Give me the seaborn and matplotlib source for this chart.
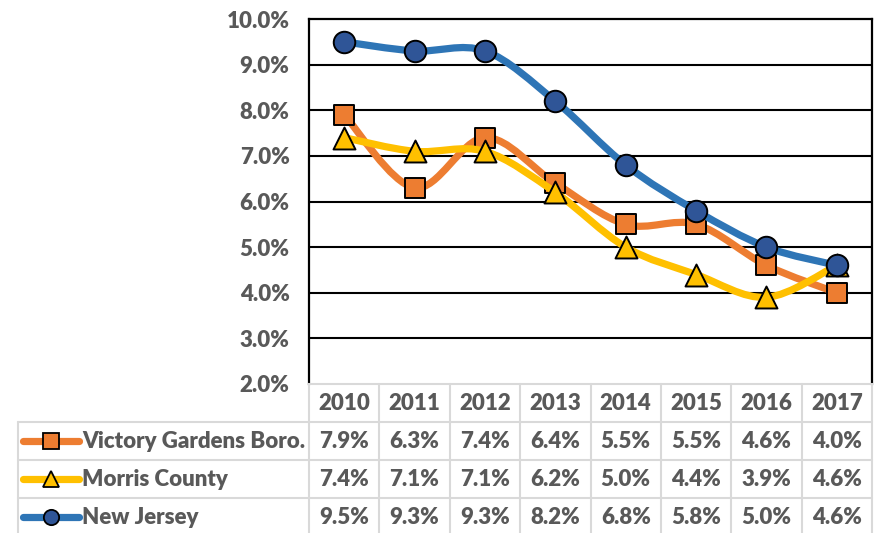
import matplotlib
matplotlib.use("Agg")
import matplotlib.pyplot as plt
import matplotlib.transforms as mtransforms
from matplotlib.path import Path
from matplotlib.patches import PathPatch
from matplotlib.lines import Line2D
import seaborn as sns
import numpy as np

years = ["2010", "2011", "2012", "2013", "2014", "2015", "2016", "2017"]
victory = [7.9, 6.3, 7.4, 6.4, 5.5, 5.5, 4.6, 4.0]
morris = [7.4, 7.1, 7.1, 6.2, 5.0, 4.4, 3.9, 4.6]
nj = [9.5, 9.3, 9.3, 8.2, 6.8, 5.8, 5.0, 4.6]
series_names = ["Victory Gardens Boro.", "Morris County", "New Jersey"]
yticks = [2.0, 3.0, 4.0, 5.0, 6.0, 7.0, 8.0, 9.0, 10.0]

sns.set_style("white")
plt.rcParams["font.family"] = ["Lato", "DejaVu Sans"]
TXT = "#595959"
GRID_T = "#d9d9d9"

W, H = 881, 533
fig = plt.figure(figsize=(W / 100, H / 100), dpi=100)
L, R, T, B = 309, 872, 19, 384
ax = fig.add_axes([L / W, 1 - B / H, (R - L) / W, (B - T) / H])

styles = [
    dict(name=series_names[0], vals=victory, line="#ED7D31", face="#ED7D31", marker="s", s=225, z=3),
    dict(name=series_names[1], vals=morris, line="#FFC000", face="#FFC000", marker="^", s=250, z=4),
    dict(name=series_names[2], vals=nj, line="#2E75B6", face="#2F5597", marker="o", s=240, z=5),
]

def smooth_path(xs, ys, t=1 / 6):
    pts = np.column_stack([xs, ys]).astype(float)
    n = len(pts)
    verts = [pts[0]]
    codes = [Path.MOVETO]
    for i in range(n - 1):
        p0 = pts[max(i - 1, 0)]
        p1 = pts[i]
        p2 = pts[i + 1]
        p3 = pts[min(i + 2, n - 1)]
        c1 = p1 + (p2 - p0) * t
        c2 = p2 - (p3 - p1) * t
        verts += [c1, c2, p2]
        codes += [Path.CURVE4] * 3
    return Path(verts, codes)

xidx = np.arange(len(years))
for st in styles:
    patch = PathPatch(smooth_path(xidx, st["vals"]), fill=False, edgecolor=st["line"],
                      lw=5.2, capstyle="round", joinstyle="round", zorder=st["z"])
    ax.add_patch(patch)
    sns.scatterplot(x=xidx, y=st["vals"], marker=st["marker"], s=st["s"], color=st["face"],
                    edgecolor="black", linewidth=1.4, zorder=st["z"] + 0.5, ax=ax, legend=False)

fs = 16
ax.set_xlim(-0.5, len(years) - 0.5)
ax.set_ylim(2.0, 10.0)
ax.set_yticks(yticks)
ax.set_yticklabels([f"{v:.1f}%" for v in yticks], fontsize=fs, fontweight="heavy", color=TXT)
ax.tick_params(axis="y", length=0, pad=14)
ax.set_xticks([])
for v in yticks[1:-1]:
    ax.axhline(v, color="black", lw=1.5, zorder=1)
for side in ["top", "left", "right"]:
    ax.spines[side].set_color("black")
    ax.spines[side].set_linewidth(1.6)
ax.spines["bottom"].set_color(GRID_T)
ax.spines["bottom"].set_linewidth(1.5)
ax.set_xlabel("")
ax.set_ylabel("")

# Data table below the plot
tb = mtransforms.blended_transform_factory(ax.transData, fig.transFigure)
def fy(py):
    return 1 - py / H
def fx(px):
    return px / W

row_lines = [B, 422, 460, 498, 536]
left_x = 18
for py in row_lines[1:]:
    fig.add_artist(Line2D([fx(left_x), fx(R)], [fy(py), fy(py)], color=GRID_T, lw=1.5))
for i in range(len(years) + 1):
    xd = i - 0.5
    fig.add_artist(Line2D([xd, xd], [fy(B), fy(row_lines[-1])], color=GRID_T, lw=1.5, transform=tb))
fig.add_artist(Line2D([fx(left_x), fx(left_x)], [fy(422), fy(536)], color=GRID_T, lw=1.5))

for i, yv in enumerate(years):
    fig.text(i, fy((B + 422) / 2), yv, transform=tb, ha="center", va="center",
             fontsize=fs, fontweight="heavy", color=TXT)

for r, st in enumerate(styles):
    cy = (row_lines[r + 1] + row_lines[r + 2]) / 2
    for i, v in enumerate(st["vals"]):
        fig.text(i, fy(cy), f"{v:.1f}%", transform=tb, ha="center", va="center",
                 fontsize=fs, fontweight="heavy", color=TXT)
    fig.add_artist(Line2D([fx(23), fx(79)], [fy(cy), fy(cy)], color=st["line"], lw=5.2,
                          solid_capstyle="round"))
    fig.add_artist(Line2D([fx(51)], [fy(cy)], marker=st["marker"], markersize=11.5 if st["marker"] != "o" else 11,
                          markerfacecolor=st["face"], markeredgecolor="black", markeredgewidth=1.3,
                          linestyle="none"))
    fig.text(fx(82), fy(cy), st["name"], ha="left", va="center", fontsize=fs,
             fontweight="heavy", color=TXT)

fig.savefig("out.png", dpi=100)
